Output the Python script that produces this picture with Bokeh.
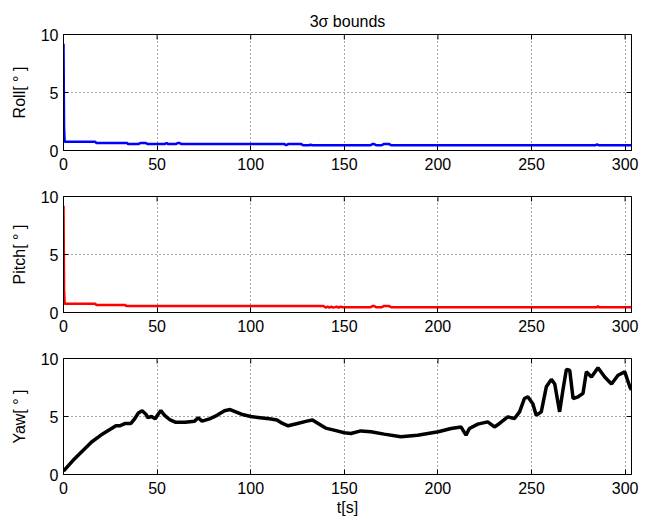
import math
from bokeh.plotting import figure
from bokeh.layouts import column
from bokeh.models import FixedTicker, Range1d, Title
from bokeh.embed import file_html
from bokeh.resources import INLINE

# ---- data ----
roll_t = [0, 0.3, 0.6, 17, 17.5, 34, 34.5, 40, 41, 44, 45, 54, 55, 56, 60, 61, 62, 63,
          118, 119, 120, 121, 127, 128, 131, 132, 133, 164, 165, 166, 167, 170, 171, 174, 175,
          284, 285, 286, 303.4]
roll_v = [9.2, 2.0, 0.75, 0.75, 0.65, 0.65, 0.55, 0.55, 0.65, 0.65, 0.55, 0.55, 0.65, 0.55, 0.55, 0.65, 0.65, 0.55,
          0.55, 0.45, 0.55, 0.55, 0.55, 0.45, 0.45, 0.5, 0.45, 0.45, 0.55, 0.55, 0.45, 0.45, 0.55, 0.55, 0.45,
          0.45, 0.52, 0.45, 0.45]

pitch_t = [0, 0.3, 0.6, 17, 17.5, 33, 33.5, 139, 140, 141, 142, 143, 144, 146, 147, 148, 149,
           164, 165, 166, 167, 170, 171, 174, 175, 285, 285.5, 286, 303.4]
pitch_v = [9.2, 2.0, 0.75, 0.75, 0.65, 0.65, 0.55, 0.55, 0.42, 0.5, 0.42, 0.5, 0.42, 0.5, 0.42, 0.5, 0.45,
           0.45, 0.55, 0.55, 0.45, 0.45, 0.55, 0.55, 0.45, 0.45, 0.55, 0.45, 0.45]

yaw_t = [0, 5, 10, 15, 20, 25, 28, 30, 33, 36, 38, 40, 42, 44, 45, 47, 49, 51, 52, 54, 57, 60,
         65, 70, 72, 74, 78, 82, 86, 89, 92, 95, 100, 105, 110, 114, 117, 120, 125, 130, 133, 136,
         140, 145, 150, 153.5, 158.8, 164.2, 171.3, 180.2, 189.1, 200.2, 207, 212.3, 215, 216.8,
         221.3, 226.6, 230.2, 232.9, 237.3, 240.9, 243.6, 246.2, 248, 250.7, 252.5, 255.2, 257.9,
         260.6, 262.4, 265, 266.8, 268.6, 270.4, 272.2, 274.9, 277.5, 279.3, 282, 285.5, 289.1,
         292.7, 296.2, 299.8, 302.5, 303.4]
yaw_v = [0.3, 1.2, 2.0, 2.8, 3.4, 3.9, 4.2, 4.2, 4.4, 4.4, 4.8, 5.3, 5.5, 5.2, 4.9, 5.0, 4.8, 5.3, 5.5, 5.1, 4.7, 4.5,
         4.5, 4.6, 4.9, 4.6, 4.8, 5.1, 5.5, 5.6, 5.4, 5.2, 5.0, 4.9, 4.8, 4.7, 4.4, 4.2, 4.4, 4.6, 4.7, 4.4,
         4.0, 3.8, 3.6, 3.53, 3.76, 3.68, 3.48, 3.25, 3.39, 3.68, 3.97, 4.1, 3.39, 3.97,
         4.34, 4.54, 4.1, 4.4, 4.97, 4.83, 5.4, 6.55, 6.7, 6.1, 5.1, 5.4, 7.56,
         8.2, 7.8, 5.4, 7.3, 9.05, 9.0, 6.55, 6.7, 7.0, 8.85, 8.4, 9.2, 8.4,
         7.8, 8.56, 8.85, 7.56, 7.3]

x_ticks = [0, 50, 100, 150, 200, 250, 300]
y_ticks = [0, 5, 10]
x_max = 303.4
y_max = 10
FONT = "Liberation Sans"
FS = "16px"


def make_panel(t, v, color, ylabel, lw, top_border, bottom_border, xlabel=None, title=None):
    p = figure(output_backend="svg", toolbar_location=None,
               frame_width=568, frame_height=116,
               x_range=Range1d(0, x_max), y_range=Range1d(0, y_max),
               min_border_left=63, min_border_right=25,
               min_border_top=top_border, min_border_bottom=bottom_border,
               x_axis_label=xlabel, y_axis_label=ylabel)
    p.background_fill_color = "white"
    p.border_fill_color = "white"
    p.outline_line_color = "black"
    p.outline_line_width = 1
    p.outline_line_alpha = 1

    p.xaxis.ticker = FixedTicker(ticks=x_ticks)
    p.yaxis.ticker = FixedTicker(ticks=y_ticks)
    for ax in (p.xaxis[0], p.yaxis[0]):
        ax.major_tick_in = 5
        ax.major_tick_out = 0
        ax.minor_tick_line_color = None
        ax.axis_line_color = "black"
        ax.major_tick_line_color = "black"
        ax.major_label_text_font = FONT
        ax.major_label_text_font_size = FS
        ax.major_label_text_color = "black"
        ax.axis_label_text_font = FONT
        ax.axis_label_text_font_size = FS
        ax.axis_label_text_font_style = "normal"
        ax.axis_label_text_color = "black"
    p.xaxis.major_label_standoff = 7
    p.xaxis.axis_label_standoff = 2
    p.yaxis.major_label_standoff = 5
    p.yaxis.axis_label_standoff = 10

    for g in (p.xgrid[0], p.ygrid[0]):
        g.grid_line_color = "black"
        g.grid_line_dash = "1 3"
        g.grid_line_width = 1
        g.grid_line_alpha = 0.7
    p.xgrid.ticker = FixedTicker(ticks=x_ticks)
    p.ygrid.ticker = FixedTicker(ticks=y_ticks)

    # mirrored inward tick marks on the top and right edges (box on); half is clipped by the frame
    p.scatter(x_ticks, [y_max] * len(x_ticks), marker="dash", angle=math.pi / 2, size=10,
              line_color="black", line_width=1)
    p.scatter([x_max] * len(y_ticks), y_ticks, marker="dash", angle=0, size=10,
              line_color="black", line_width=1)

    if title is not None:
        p.add_layout(Title(text=title, align="center", text_font=FONT, text_font_size=FS,
                           text_font_style="normal", text_color="black", offset=0, standoff=10), "above")

    p.line(t, v, line_color=color, line_width=lw)
    return p


p1 = make_panel(roll_t, roll_v, "#0000ff", "Roll[ ° ]", 2.5, 34, 23, title="3σ bounds")
p2 = make_panel(pitch_t, pitch_v, "#ff0000", "Pitch[ ° ]", 2.5, 23, 23)
p3 = make_panel(yaw_t, yaw_v, "black", "Yaw[ ° ]", 3.5, 23, 46, xlabel="t[s]")

layout = column(p1, p2, p3, spacing=0)
open("out.html", "w").write(file_html(layout, INLINE))
